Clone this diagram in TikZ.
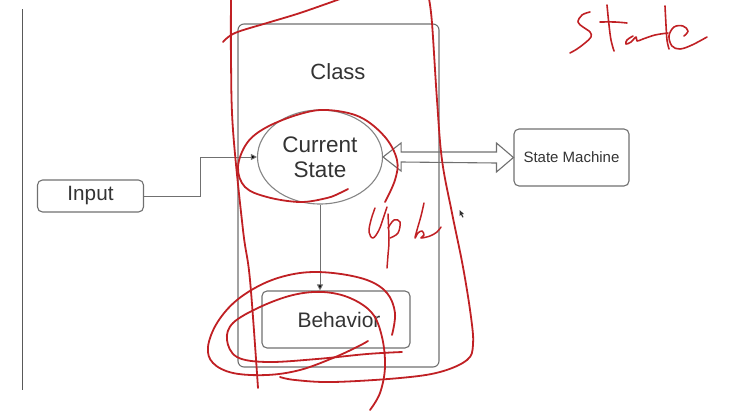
\documentclass[tikz,border=0pt]{standalone}
\usepackage{fontspec}
\setmainfont{Liberation Sans}
\usetikzlibrary{arrows.meta,calc,shapes.geometric}
\definecolor{ink}{RGB}{192,32,36}
\definecolor{edgec}{RGB}{112,112,112}
\definecolor{txt}{RGB}{51,51,51}
\begin{document}
\begin{tikzpicture}[x=1pt,y=-1pt,
  box/.style={draw=edgec, line width=1.1pt, rounded corners=5pt, inner sep=0pt, text=txt},
  lbl/.style={inner sep=0pt, text=txt},
  conn/.style={draw=edgec, line width=1pt, -{Triangle[length=6pt,width=6pt,fill=black]}},
  redink/.style={draw=ink, line width=1.8pt, line cap=round, line join=round}]
\useasboundingbox (0,0) rectangle (748,418);
% left margin line
\coordinate (mtop) at (22,9);
\coordinate (mbot) at (22,390);
\draw[draw=black!65, line width=1pt] (mtop) -- (mbot);
% class container
\node[box, rounded corners=6pt, minimum width=201pt, minimum height=343pt] (cls) at (338.5,195.5) {};
\node[lbl, font=\fontsize{22}{25}\selectfont] (clsl) at (338,72) {Class};
% current state
\node[draw=edgec!85, line width=1.1pt, ellipse, inner sep=0pt, minimum width=125pt, minimum height=94pt,
      align=center, text=txt, font=\fontsize{22.5}{25}\selectfont] (cs) at (320,157) {Current\\State};
% input
\node[box, minimum width=106pt, minimum height=32pt, font=\fontsize{20.7}{24}\selectfont] (in) at (90.5,196) {Input};
% state machine
\node[box, minimum width=115pt, minimum height=57pt, font=\fontsize{15}{18}\selectfont] (sm) at (571.5,157.5) {State Machine};
% behavior
\node[box, minimum width=148pt, minimum height=57pt, font=\fontsize{21}{24}\selectfont] (beh) at (336,319.5) {\hspace{6pt}Behavior};
% connectors
\draw[conn] (in.east) -- ++(56,0) |- (cs.west);
\draw[conn] (cs.south) -- (cs.south |- beh.north);
\draw[draw=edgec, line width=1.1pt, line join=miter]
  (cs.east) -- ++(18,-14) -- ++(0,9) -- ($(sm.west)+(-17,-5.5)$) -- ++(0,-9)
  -- (sm.west) -- ++(-17,14.5) -- ++(0,-9) -- ($(cs.east)+(18,5)$) -- ++(0,9) -- cycle;
% handwritten annotations
\draw[redink] plot[smooth, tension=0.6] coordinates {(429,-1) (432,23) (437,100) (442,160) (452,213) (463,267) (471,317) (473,345) (467,360) (440,372) (400,378) (333,382) (295,380) (280,377)};
\draw[redink] plot[smooth, tension=0.6] coordinates {(231,-1) (231,60) (233,130) (243,230) (250,280) (258,388)};
\draw[redink] plot[smooth, tension=0.6] coordinates {(223,42) (235,33) (267,23) (300,13) (340,-1)};
\draw[redink] plot[smooth, tension=0.6] coordinates {(348,189) (340,193) (327,198) (300,202) (267,197) (245,187) (238,167) (247,143) (267,127) (300,114) (327,110) (360,117) (385,137) (397,160) (395,180) (385,202)};
% Behavior loops
\draw[redink] plot[smooth, tension=0.6] coordinates {(392,335) (395,313) (387,293) (367,280) (333,273) (300,273) (267,282) (237,300) (217,323) (208,347) (213,363) (233,373) (267,375) (300,370) (333,358) (357,347) (368,341)};
\draw[redink] plot[smooth, tension=0.6] coordinates {(402,352) (367,354) (317,359) (267,362) (237,357) (227,340) (233,323) (260,307) (293,295) (323,292) (350,298) (372,313) (382,337) (385,367) (380,393) (370,410)};
% "Upd"
\draw[redink, line width=1.5pt] plot[smooth, tension=0.6] coordinates {(375,208) (371,220) (369,232) (373,238) (379,230) (384,216) (387,207)};
\draw[redink, line width=1.5pt] plot[smooth, tension=0.6] coordinates {(388,214) (389,240) (388,255) (387,268)};
\draw[redink, line width=1.5pt] plot[smooth, tension=0.6] coordinates {(388,228) (394,220) (400,222) (398,233) (390,238)};
\draw[redink, line width=1.5pt] plot[smooth, tension=0.6] coordinates {(424,203) (421,216) (417,230) (415,238) (418,233) (422,231) (424,235) (421,238) (430,236) (437,232) (441,227)};
% "State"
\draw[redink, line width=1.6pt] plot[smooth, tension=0.6] coordinates {(590,12) (582,15) (578,22) (583,27) (590,32) (591,37) (585,43) (577,49) (570,53)};
\draw[redink, line width=1.6pt] plot[smooth, tension=0.6] coordinates {(607,5) (609,25) (611,40) (614,51)};
\draw[redink, line width=1.6pt] plot[smooth, tension=0.6] coordinates {(600,22) (615,22) (627,23)};
\draw[redink, line width=1.6pt] plot[smooth, tension=0.6] coordinates {(633,36) (627,40) (626,44) (631,42) (636,37) (637,41) (643,39) (655,35) (668,33)};
\draw[redink, line width=1.6pt] plot[smooth, tension=0.6] coordinates {(665,6) (666,25) (667,40) (669,49)};
\draw[redink, line width=1.6pt] plot[smooth, tension=0.6] coordinates {(684,36) (688,31) (683,26) (674,27) (669,36) (672,46) (680,49) (692,45) (707,37)};
% mouse pointer
\fill[black!80] (459.5,210) -- (459.5,216) -- (461,214.7) -- (462.5,217.5) -- (463.5,217) -- (462,214.2) -- (464,214) -- cycle;
\end{tikzpicture}
\end{document}
